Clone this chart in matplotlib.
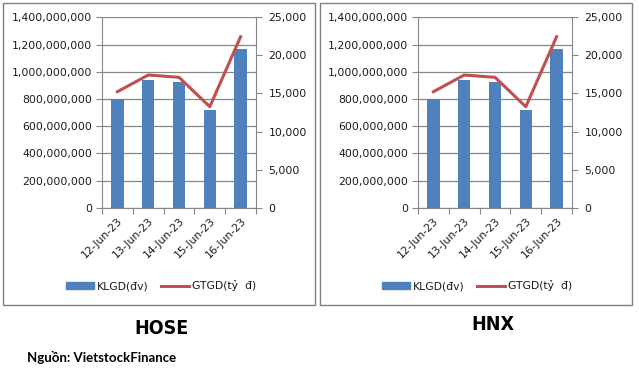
import matplotlib
matplotlib.use('Agg')
import matplotlib.pyplot as plt
import matplotlib.ticker as mtk
from matplotlib.patches import Rectangle, Patch
from matplotlib.lines import Line2D

# data (both panels show the same values)
dates = ['12-Jun-23', '13-Jun-23', '14-Jun-23', '15-Jun-23', '16-Jun-23']
hose_klgd = [800e6, 940e6, 925e6, 720e6, 1167e6]
hose_gtgd = [15230, 17420, 17120, 13260, 22450]
hnx_klgd = [800e6, 940e6, 925e6, 720e6, 1167e6]
hnx_gtgd = [15230, 17420, 17120, 13260, 22450]
titles = ['HOSE', 'HNX']

W, H = 639, 373
BAR = '#4F81BD'
LINE = '#C0504D'
GRID = '#878787'
TXT = '#1a1a1a'
FS = 7.8


def px(x0, y0, w, h):
    # pixel box (from top-left) -> figure fraction
    return [x0 / W, (H - y0 - h) / H, w / W, h / H]


def panel(fig, xoff, klgd, gtgd):
    ax = fig.add_axes(px(102 + xoff, 17.3, 154, 190.4))
    xs = range(len(dates))
    ax.bar(xs, klgd, width=0.4, color=BAR, zorder=2)
    ax.set_ylim(0, 1.4e9)
    ax.set_xlim(-0.5, len(dates) - 0.5)
    ax.yaxis.set_major_locator(mtk.MultipleLocator(2e8))
    ax.yaxis.set_major_formatter(mtk.FuncFormatter(lambda v, p: f'{v:,.0f}'))
    ax.grid(axis='y', color=GRID, lw=0.9, zorder=0)
    ax.set_xticks([i + 0.5 for i in range(-1, len(dates))])
    ax.set_xticklabels([])
    ax.set_xticks(list(xs), minor=True)
    ax.set_xticklabels(dates, minor=True, rotation=45, ha='right',
                       rotation_mode='anchor', fontsize=FS, color=TXT)
    ax.tick_params(axis='x', which='minor', length=0, pad=6)
    ax.tick_params(axis='x', which='major', length=4, color=GRID)
    ax.tick_params(axis='y', length=4, color=GRID, labelsize=FS,
                   labelcolor=TXT, pad=3)
    for s in ['top', 'right']:
        ax.spines[s].set_visible(False)
    for s in ['left', 'bottom']:
        ax.spines[s].set_color(GRID)

    ax2 = ax.twinx()
    ax2.plot(xs, gtgd, color=LINE, lw=2.2, zorder=3)
    ax2.set_ylim(0, 25000)
    ax2.yaxis.set_major_locator(mtk.MultipleLocator(5000))
    ax2.yaxis.set_major_formatter(mtk.FuncFormatter(lambda v, p: f'{v:,.0f}'))
    ax2.tick_params(axis='y', length=4, color=GRID, labelsize=FS,
                    labelcolor=TXT, pad=5)
    for s in ['top', 'left', 'bottom']:
        ax2.spines[s].set_visible(False)
    ax2.spines['right'].set_color(GRID)

    handles = [Patch(color=BAR, label='KLGD(đv)'),
               Line2D([], [], color=LINE, lw=2.2, label='GTGD(tỷ  đ)')]
    fig.legend(handles=handles, loc='center', ncol=2, frameon=False,
               bbox_to_anchor=((161 + xoff) / W, (H - 286) / H),
               fontsize=FS, handlelength=2.6, handleheight=0.6,
               columnspacing=1.2, handletextpad=0.2, labelcolor=TXT)


fig = plt.figure(figsize=(W / 100, H / 100), dpi=100)
fig.patches.append(Rectangle((3 / W, (H - 305) / H), 312 / W, 302 / H,
                             transform=fig.transFigure, fill=False,
                             ec='#7f7f7f', lw=1))
fig.patches.append(Rectangle((320 / W, (H - 305) / H), 312 / W, 302 / H,
                             transform=fig.transFigure, fill=False,
                             ec='#7f7f7f', lw=1))

panel(fig, 0, hose_klgd, hose_gtgd)
panel(fig, 316, hnx_klgd, hnx_gtgd)

fig.text(162 / W, (H - 328) / H, titles[0], ha='center', va='center',
         fontsize=14, fontweight='bold', fontstretch='condensed',
         family=['DejaVu Sans'])
fig.text(493 / W, (H - 324) / H, titles[1], ha='center', va='center',
         fontsize=14, fontweight='bold', fontstretch='condensed',
         family=['DejaVu Sans'])
fig.text(27 / W, (H - 357) / H, 'Nguồn: VietstockFinance', ha='left',
         va='center', fontsize=9.5, fontweight='bold',
         family=['Lato', 'DejaVu Sans'])

fig.savefig('out.png', dpi=100)
